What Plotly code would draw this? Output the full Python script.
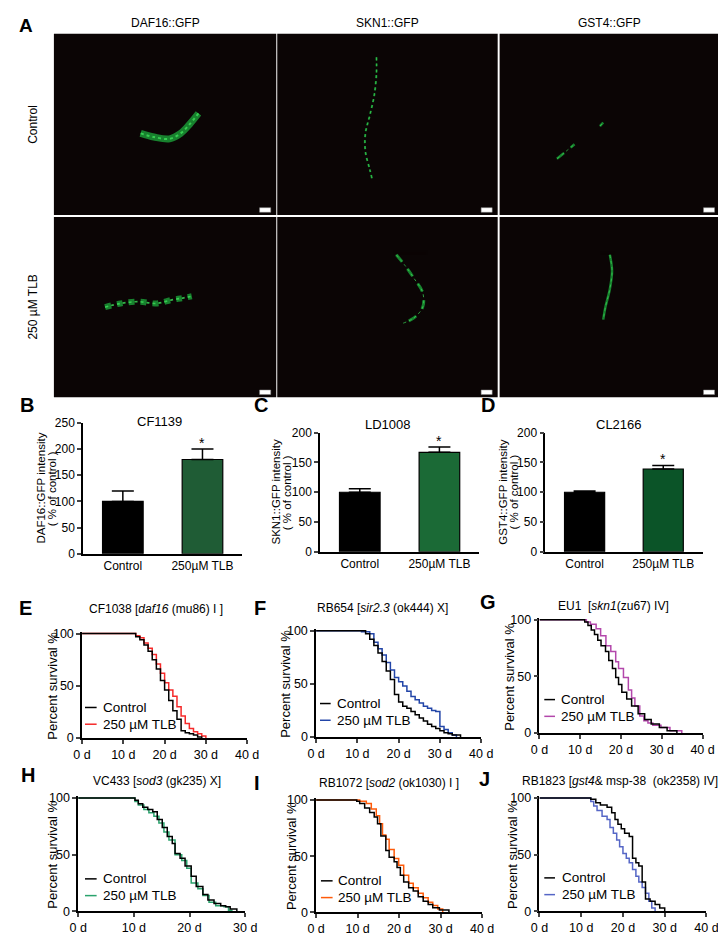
import plotly.graph_objects as go

W, H = 726, 935
FONT = "Liberation Sans, Arial, sans-serif"

# ---------------- data ----------------
# panel A: fluorescence images (worm traces in image-relative coords, 0-1)
IMG_COLS = ["DAF16::GFP", "SKN1::GFP", "GST4::GFP"]
IMG_ROWS = ["Control", "250 µM TLB"]

worm_daf16_ctrl_x = [0.39, 0.45, 0.52, 0.57, 0.61, 0.65]
worm_daf16_ctrl_y = [0.45, 0.43, 0.42, 0.45, 0.50, 0.56]
worm_skn1_ctrl_x = [0.45, 0.45, 0.44, 0.42, 0.40, 0.40, 0.42, 0.43]
worm_skn1_ctrl_y = [0.87, 0.78, 0.66, 0.55, 0.45, 0.35, 0.25, 0.20]
worm_gst4_ctrl_x = [0.455, 0.47, None, 0.26, 0.30, 0.34]
worm_gst4_ctrl_y = [0.49, 0.51, None, 0.31, 0.35, 0.39]
worm_daf16_tlb_x = [0.23, 0.30, 0.38, 0.46, 0.53, 0.58, 0.62]
worm_daf16_tlb_y = [0.50, 0.52, 0.53, 0.52, 0.54, 0.55, 0.56]
worm_skn1_tlb_x = [0.54, 0.58, 0.62, 0.66, 0.66, 0.62, 0.57]
worm_skn1_tlb_y = [0.79, 0.73, 0.66, 0.58, 0.50, 0.44, 0.41]
worm_gst4_tlb_x = [0.50, 0.51, 0.50, 0.48, 0.47]
worm_gst4_tlb_y = [0.79, 0.70, 0.60, 0.50, 0.43]

# panels B-D: GFP intensity (% of control)
BAR_CATS = ["Control", "250µM TLB"]
daf16_mean = [100, 180]
daf16_err = [20, 20]
skn1_mean = [100, 167]
skn1_err = [6, 9]
gst4_mean = [100, 139]
gst4_err = [2, 6]

# panels E-J: survival curves (day, % alive)
e_ctrl_d = [0, 12, 13, 14, 15, 16, 17, 18, 19, 20, 21, 22, 23, 24, 25, 26, 27, 28, 29]
e_ctrl_s = [100, 100, 97, 94, 89, 83, 75, 66, 55, 46, 36, 26, 18, 7, 5, 4, 3, 1, 0]
e_tlb_d = [0, 13, 14, 15, 16, 17, 18, 19, 20, 21, 22, 23, 24, 25, 26, 27, 28, 29, 30]
e_tlb_s = [100, 98, 96, 91, 86, 80, 71, 62, 53, 46, 40, 30, 21, 14, 9, 6, 4, 2, 0]

f_ctrl_d = [0, 12, 13, 14, 15, 16, 17, 18, 19, 20, 21, 22, 23, 24, 25, 26, 27, 28, 29, 30, 31, 32, 33, 35]
f_ctrl_s = [100, 97, 92, 86, 79, 71, 62, 54, 40, 33, 29, 27, 24, 21, 18, 15, 12, 10, 8, 6, 4, 3, 2, 0]
f_tlb_d = [0, 11, 13, 14, 15, 16, 17, 18, 19, 20, 21, 22, 23, 24, 25, 26, 27, 28, 29, 30, 31, 32, 33, 34]
f_tlb_s = [100, 99, 97, 89, 83, 77, 70, 63, 56, 52, 48, 43, 38, 35, 32, 29, 27, 25, 24, 10, 7, 4, 2, 0]

g_ctrl_d = [0, 11.1, 11.9, 12.7, 13.5, 14.3, 15.1, 16.2, 17, 17.9, 18.7, 19.4, 20.2, 21.4, 22.6, 24.2, 25.8, 27.4, 29.4, 31.3, 33.7]
g_ctrl_s = [100, 98, 95, 91, 87, 82, 77, 72, 64, 57, 49, 43, 36, 30, 24, 17, 12, 8, 5, 2, 0]
g_tlb_d = [0, 11.5, 12.5, 13.9, 15, 16.3, 17.5, 18.7, 19.4, 20.6, 21.8, 22.6, 23.4, 24.6, 25.6, 26.6, 27.8, 29.8, 32, 34.9]
g_tlb_s = [100, 98, 96, 92, 86, 77, 72, 63, 57, 49, 38, 31, 24, 15, 11, 9, 7, 5, 2, 0]

h_ctrl_d = [0, 10.2, 10.8, 11.6, 12.5, 13.4, 14.2, 15.1, 16, 16.9, 17.4, 18.3, 19.2, 20.3, 21.2, 22.4, 23.3, 24.4, 25.6, 26.5, 27.3, 28.5]
h_ctrl_s = [100, 98, 95, 92, 90, 88, 81, 74, 66, 60, 51, 47, 40, 31, 22, 15, 10, 7, 5, 4, 2, 0]
h_tlb_d = [0, 10.2, 10.8, 11.8, 12.7, 13.6, 14.5, 15.4, 16.3, 17.4, 18.6, 19.5, 20.3, 21.5, 22.4, 23.5, 24.7, 26.2, 27, 27.6]
h_tlb_s = [100, 97, 94, 90, 87, 84, 78, 70, 63, 50, 45, 38, 25, 20, 14, 8, 5, 4, 1, 0]

i_ctrl_d = [0, 9.8, 10.5, 11.7, 12.9, 14, 14.8, 15.6, 16.8, 17.6, 18.8, 19.5, 20.3, 21.1, 22.3, 23.4, 24.6, 25.8, 27, 28.1, 29.7, 32]
i_ctrl_s = [100, 99, 97, 93, 89, 85, 79, 68, 55, 49, 45, 40, 33, 27, 22, 19, 14, 10, 7, 4, 2, 0]
i_tlb_d = [0, 10.5, 12.1, 13.3, 14.5, 15.3, 16, 16.8, 17.6, 18.8, 19.9, 21.1, 22.3, 23.4, 24.6, 25.8, 27, 28.1, 29.3, 30.5]
i_tlb_s = [100, 99, 97, 92, 86, 79, 69, 65, 56, 48, 42, 33, 26, 22, 17, 13, 9, 6, 3, 0]

j_ctrl_d = [0, 12.3, 13.5, 14.6, 16.2, 17.3, 18.1, 18.8, 19.6, 20.4, 21.5, 22.3, 23.1, 23.8, 24.6, 25.4, 26.5, 27.7, 28.8, 30]
j_ctrl_s = [100, 99, 96, 94, 92, 87, 81, 77, 73, 69, 66, 47, 43, 40, 26, 11, 9, 6, 3, 0]
j_tlb_d = [0, 12.3, 13, 13.8, 15, 16.2, 16.9, 17.7, 18.5, 19.2, 20, 20.8, 21.5, 22.3, 23.1, 23.8, 24.6, 25.4, 26.2, 26.9, 27.7]
j_tlb_s = [100, 97, 93, 89, 84, 81, 74, 69, 63, 57, 51, 47, 43, 37, 31, 26, 21, 16, 9, 3, 0]


# ---------------- helpers ----------------
def xd(x0, x1):
    return [x0 / W, x1 / W]


def yd(top, bottom):
    return [1 - bottom / H, 1 - top / H]


def px(x):
    return x / W


def py(y):
    return 1 - y / H


def ax_name(kind, i):
    return kind + "axis" + ("" if i == 1 else str(i))


def ref(kind, i):
    return kind + ("" if i == 1 else str(i))


fig = go.Figure()
layout = {}
shapes = []
annotations = []


def label(x, y, text, size=12, bold=False, angle=0, xanchor="center"):
    annotations.append(dict(
        x=px(x), y=py(y), xref="paper", yref="paper", text=f"<b>{text}</b>" if bold else text,
        showarrow=False, xanchor=xanchor, yanchor="middle", textangle=angle,
        font=dict(family=FONT, size=size, color="black")))


# ---------------- panel A ----------------
img_x = [(38, 267), (268, 495), (497, 724)]
img_y = [(19, 203), (205, 388)]
worms = [
    [(worm_daf16_ctrl_x, worm_daf16_ctrl_y, 7, "solid"),
     (worm_skn1_ctrl_x, worm_skn1_ctrl_y, 2, "dot"),
     (worm_gst4_ctrl_x, worm_gst4_ctrl_y, 2.5, "dash")],
    [(worm_daf16_tlb_x, worm_daf16_tlb_y, 6, "dot"),
     (worm_skn1_tlb_x, worm_skn1_tlb_y, 3, "dash"),
     (worm_gst4_tlb_x, worm_gst4_tlb_y, 2.5, "solid")],
]

k = 0
for r in range(2):
    for c in range(3):
        k += 1
        layout[ax_name("x", k)] = dict(domain=xd(*img_x[c]), range=[0, 1], visible=False,
                                       anchor=ref("y", k), fixedrange=True)
        layout[ax_name("y", k)] = dict(domain=yd(*img_y[r]), range=[0, 1], visible=False,
                                       anchor=ref("x", k), fixedrange=True)
        shapes.append(dict(type="rect", xref=ref("x", k) + " domain", yref=ref("y", k) + " domain",
                           x0=0, x1=1, y0=0, y1=1, fillcolor="#0b0505", line_width=0, layer="below"))
        shapes.append(dict(type="rect", xref=ref("x", k) + " domain", yref=ref("y", k) + " domain",
                           x0=0.925, x1=0.975, y0=0.015, y1=0.04, fillcolor="white",
                           line=dict(color="#888", width=0.5)))
        wx, wy, lw, dash = worms[r][c]
        fig.add_trace(go.Scatter(x=wx, y=wy, mode="lines", xaxis=ref("x", k), yaxis=ref("y", k),
                                 line=dict(color="#1a8f33", width=lw, dash=dash, shape="spline"),
                                 opacity=0.9, showlegend=False, hoverinfo="skip"))
        fig.add_trace(go.Scatter(x=wx, y=wy, mode="lines", xaxis=ref("x", k), yaxis=ref("y", k),
                                 line=dict(color="#3ee05a", width=max(lw / 3.5, 0.8), dash="dot", shape="spline"),
                                 opacity=0.8, showlegend=False, hoverinfo="skip"))

label(9, 11, "A", size=19, bold=True)
for c, name in enumerate(IMG_COLS):
    label((img_x[c][0] + img_x[c][1]) / 2, 8, name, size=12)
for r, name in enumerate(IMG_ROWS):
    label(17, (img_y[r][0] + img_y[r][1]) / 2, name, size=12, angle=-90)

# ---------------- panels B-D ----------------
bar_panels = [
    dict(letter="B", lpos=(10, 396), title="CF1139", tpos=(147, 413), mean=daf16_mean, err=daf16_err,
         color="#1f5c35", xd=(68, 232), yd=(414, 547), ymax=250, ylab="DAF16::GFP intensity", ylx=(25, 36)),
    dict(letter="C", lpos=(251, 396), title="LD1008", tpos=(382, 416), mean=skn1_mean, err=skn1_err,
         color="#1b6a36", xd=(312, 476), yd=(424, 545), ymax=200, ylab="SKN1::GFP intensity", ylx=(267, 278)),
    dict(letter="D", lpos=(485, 396), title="CL2166", tpos=(620, 416), mean=gst4_mean, err=gst4_err,
         color="#0b5428", xd=(544, 706), yd=(424, 545), ymax=200, ylab="GST4::GFP intensity", ylx=(501, 512)),
]

for p in bar_panels:
    k += 1
    fig.add_trace(go.Bar(
        x=BAR_CATS, y=p["mean"], xaxis=ref("x", k), yaxis=ref("y", k), width=0.51,
        marker=dict(color=["#000000", p["color"]], line=dict(color="black", width=1.2)),
        error_y=dict(type="data", array=p["err"], arrayminus=[0, 0], symmetric=False,
                     color="black", thickness=1.5, width=11),
        showlegend=False))
    layout[ax_name("x", k)] = dict(
        domain=xd(*p["xd"]), anchor=ref("y", k), showline=True, linecolor="black", linewidth=1.5,
        ticks="", showgrid=False, tickfont=dict(family=FONT, size=12, color="black"), fixedrange=True)
    layout[ax_name("y", k)] = dict(
        domain=yd(*p["yd"]), anchor=ref("x", k), range=[0, p["ymax"]], dtick=50,
        showline=True, linecolor="black", linewidth=1.5, ticks="outside", ticklen=4, tickwidth=1.5,
        showgrid=False, zeroline=False, tickfont=dict(family=FONT, size=12, color="black"), fixedrange=True)
    label(*p["lpos"], p["letter"], size=20, bold=True)
    label(*p["tpos"], p["title"], size=13)
    ymid = (p["yd"][0] + p["yd"][1]) / 2
    label(p["ylx"][0], ymid, p["ylab"], size=11.5, angle=-90)
    label(p["ylx"][1], ymid, "( % of control )", size=11.5, angle=-90)
    annotations.append(dict(
        x=BAR_CATS[1], y=p["mean"][1] + p["err"][1], xref=ref("x", k), yref=ref("y", k), text="*",
        showarrow=False, yanchor="bottom", yshift=-4, font=dict(family=FONT, size=14, color="black")))

# ---------------- panels E-J ----------------
surv_panels = [
    dict(letter="E", lpos=(9, 602), title="CF1038 [<i>daf16</i> (mu86) I ]", tpos=(143, 603), tanchor="center",
         ctrl=(e_ctrl_d, e_ctrl_s), tlb=(e_tlb_d, e_tlb_s), color="#f52a2a",
         xd=(67, 237), yd=(628, 734), xmax=40, ylx=37, leg=(70, 82, 86, 703, 720)),
    dict(letter="F", lpos=(250, 602), title="RB654 [<i>sir2.3</i> (ok444) X]", tpos=(376, 602), tanchor="center",
         ctrl=(f_ctrl_d, f_ctrl_s), tlb=(f_tlb_d, f_tlb_s), color="#2245a8",
         xd=(308, 478), yd=(625, 733), xmax=40, ylx=277, leg=(312, 323, 327, 699, 716)),
    dict(letter="G", lpos=(485, 596), title="EU1  [<i>skn1</i>(zu67) IV]", tpos=(614, 600), tanchor="center",
         ctrl=(g_ctrl_d, g_ctrl_s), tlb=(g_tlb_d, g_tlb_s), color="#b347ab",
         xd=(538, 706), yd=(614, 729), xmax=40, ylx=507, leg=(543, 554, 558, 695, 712)),
    dict(letter="H", lpos=(11, 772), title="VC433 [<i>sod3</i> (gk235) X]", tpos=(144, 778), tanchor="center",
         ctrl=(h_ctrl_d, h_ctrl_s), tlb=(h_tlb_d, h_tlb_s), color="#2aa36d",
         xd=(63, 235), yd=(795, 910), xmax=30, ylx=37, leg=(70, 82, 86, 877, 894)),
    dict(letter="I", lpos=(247, 780), title="RB1072 [<i>sod2</i> (ok1030) I ]", tpos=(383, 780), tanchor="center",
         ctrl=(i_ctrl_d, i_ctrl_s), tlb=(i_tlb_d, i_tlb_s), color="#ff5b0a",
         xd=(308, 479), yd=(797, 911), xmax=40, ylx=282, leg=(313, 325, 329, 879, 896)),
    dict(letter="J", lpos=(481, 776), title="RB1823 [<i>gst4</i>& msp-38  (ok2358) IV]", tpos=(724, 778), tanchor="right",
         ctrl=(j_ctrl_d, j_ctrl_s), tlb=(j_tlb_d, j_tlb_s), color="#5566c6",
         xd=(538, 710), yd=(795, 910), xmax=40, ylx=511, leg=(543, 554, 559, 876, 893)),
]

for p in surv_panels:
    k += 1
    fig.add_trace(go.Scatter(x=p["tlb"][0], y=p["tlb"][1], mode="lines", xaxis=ref("x", k), yaxis=ref("y", k),
                             line=dict(color=p["color"], width=1.5, shape="hv"), showlegend=False))
    fig.add_trace(go.Scatter(x=p["ctrl"][0], y=p["ctrl"][1], mode="lines", xaxis=ref("x", k), yaxis=ref("y", k),
                             line=dict(color="black", width=1.5, shape="hv"), showlegend=False))
    top, bot = p["yd"]
    day_ticks = list(range(0, p["xmax"] + 1, 10))
    layout[ax_name("x", k)] = dict(
        domain=xd(*p["xd"]), anchor=ref("y", k), range=[0, p["xmax"]],
        tickvals=day_ticks, ticktext=[f"{v} d" for v in day_ticks],
        showline=True, linecolor="black", linewidth=1.5, ticks="outside", ticklen=4, tickwidth=1.5,
        showgrid=False, zeroline=False, tickfont=dict(family=FONT, size=12.5, color="black"), fixedrange=True)
    layout[ax_name("y", k)] = dict(
        domain=yd(top - (bot - top) * 0.015, bot), anchor=ref("x", k), range=[0, 101.5],
        tickvals=[0, 50, 100], showline=True, linecolor="black", linewidth=1.5,
        ticks="outside", ticklen=4, tickwidth=1.5, showgrid=False, zeroline=False,
        tickfont=dict(family=FONT, size=12.5, color="black"), fixedrange=True)
    label(*p["lpos"], p["letter"], size=20, bold=True)
    label(*p["tpos"], p["title"], size=12, xanchor=p["tanchor"])
    label(p["ylx"], (top + bot) / 2, "Percent survival %", size=13, angle=-90)
    lx0, lx1, tx, y1, y2 = p["leg"]
    for yy, col, txt in [(y1, "black", "Control"), (y2, p["color"], "250 µM TLB")]:
        shapes.append(dict(type="line", xref="paper", yref="paper", x0=px(lx0), x1=px(lx1),
                           y0=py(yy), y1=py(yy), line=dict(color=col, width=1.5)))
        label(tx, yy, txt, size=13.5, xanchor="left")

fig.update_layout(
    width=W, height=H, margin=dict(l=0, r=0, t=0, b=0),
    paper_bgcolor="white", plot_bgcolor="rgba(0,0,0,0)",
    font=dict(family=FONT, color="black"),
    shapes=shapes, annotations=annotations, bargap=0.5,
    **layout,
)

fig.write_html("out.html")
